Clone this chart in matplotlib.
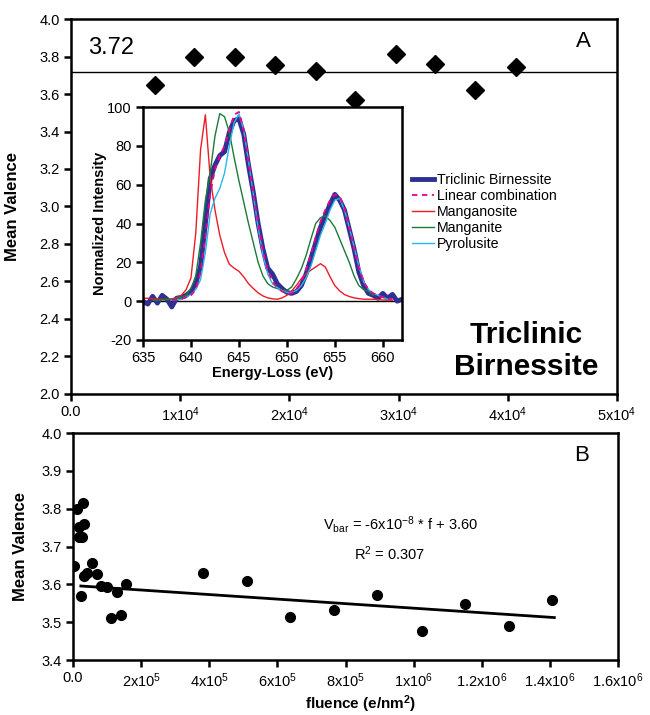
import numpy as np
import matplotlib
matplotlib.use("Agg")
import matplotlib.pyplot as plt

plt.rcParams["font.family"] = ["Liberation Sans", "DejaVu Sans"]
plt.rcParams["mathtext.fontset"] = "custom"
plt.rcParams["mathtext.rm"] = "Liberation Sans"
plt.rcParams["mathtext.it"] = "Liberation Sans:italic"
plt.rcParams["mathtext.bf"] = "Liberation Sans:bold"
plt.rcParams["axes.unicode_minus"] = False

# %% panel A: mean valence of each measurement
fluence_a = [7650, 11230, 15000, 18660, 22430, 26010, 29760, 33350, 37040, 40780]
valence_a = [3.65, 3.80, 3.80, 3.755, 3.724, 3.57, 3.813, 3.76, 3.621, 3.742]
mean_valence = 3.72

# %% inset: Mn L2,3 edge spectra
energy = [635.0, 635.5, 636.0, 636.5, 637.0, 637.5, 638.0, 638.5, 639.0, 639.5,
          640.0, 640.5, 641.0, 641.5, 642.0, 642.5, 643.0, 643.5, 644.0, 644.5,
          645.0, 645.5, 646.0, 646.5, 647.0, 647.5, 648.0, 648.5, 649.0, 649.5,
          650.0, 650.5, 651.0, 651.5, 652.0, 652.5, 653.0, 653.5, 654.0, 654.5,
          655.0, 655.5, 656.0, 656.5, 657.0, 657.5, 658.0, 658.5, 659.0, 659.5,
          660.0, 660.5, 661.0, 661.5, 662.0]
nan = np.nan
birnessite = [0.0, -1.5, 2.5, -1.0, 3.0, 1.0, -3.0, 1.5, 2.0, 3.0,
              5.0, 9.0, 18.0, 40.0, 63.0, 70.0, 75.0, 77.0, 87.0, 93.0,
              94.0, 86.0, 70.0, 56.0, 40.0, 27.0, 17.0, 14.0, 9.0, 6.5,
              4.5, 4.0, 5.0, 8.0, 14.0, 22.0, 30.0, 38.0, 44.0, 50.0,
              55.0, 52.0, 47.0, 37.0, 27.0, 15.0, 8.0, 4.0, 3.0, 1.5,
              4.0, 1.5, 3.5, 0.0, 1.0]
linear_comb = [nan, nan, nan, nan, nan, nan, 0.5, 0.8, 1.2, 2.0,
               3.0, 6.0, 15.0, 33.0, 55.0, 68.0, 75.0, 80.0, 88.0, 96.0,
               97.5, 88.0, 72.0, 56.0, 40.0, 26.0, 16.0, 10.0, 7.0, 5.0,
               4.0, 4.0, 6.0, 10.0, 16.0, 24.0, 33.0, 41.0, 47.0, 52.0,
               55.0, 54.0, 48.0, 38.0, 27.0, 17.0, 10.0, 6.0, 4.0, 3.0,
               2.0, 1.5, 1.0, nan, nan]
manganosite = [1.5, 1.5, 1.2, 1.0, 1.0, 1.0, 1.2, 1.8, 3.0, 6.0,
               12.0, 35.0, 78.0, 96.0, 64.0, 47.0, 34.0, 25.0, 19.0, 17.0,
               15.4, 12.5, 9.0, 6.5, 4.3, 2.7, 1.7, 1.2, 1.0, 1.7,
               3.0, 5.3, 8.2, 11.6, 14.0, 16.0, 17.6, 19.3, 17.6, 12.5,
               8.0, 5.3, 3.4, 2.4, 1.7, 1.3, 1.0, 1.0, 1.0, 0.8,
               0.6, 0.5, 0.5, nan, nan]
manganite = [nan, nan, 0.5, 0.5, 0.6, 0.8, 1.0, 1.5, 2.0, 3.0,
             6.5, 13.0, 30.0, 52.0, 66.0, 85.0, 96.6, 95.0, 87.0, 74.0,
             62.0, 51.0, 40.0, 30.0, 20.0, 13.0, 9.0, 7.3, 6.5, 5.6,
             5.6, 7.3, 11.6, 16.7, 23.5, 32.0, 40.0, 43.0, 44.0, 41.5,
             38.0, 32.0, 26.0, 20.0, 13.0, 8.0, 6.0, 5.0, 3.0, nan,
             nan, nan, nan, nan, nan]
pyrolusite = [nan, nan, nan, nan, nan, nan, 0.5, 0.8, 1.0, 2.0,
              3.5, 6.0, 11.0, 25.0, 45.0, 53.0, 58.0, 66.0, 80.0, 92.0,
              96.5, 88.0, 72.0, 55.0, 38.0, 24.0, 14.0, 9.0, 7.0, 5.5,
              4.5, 4.5, 5.5, 8.0, 12.0, 18.0, 26.0, 34.0, 40.0, 47.0,
              52.0, 53.0, 47.0, 38.0, 28.0, 18.0, 10.0, 6.0, 4.0, 3.0,
              2.0, 1.0, nan, nan, nan]

# %% panel B: mean valence vs fluence
fluence_b = [3.8e3, 1.3e4, 3.0e4, 1.8e4, 3.2e4, 1.85e4, 2.55e4, 2.25e4, 3.2e4, 4.0e4,
             5.5e4, 7.1e4, 8.2e4, 9.9e4, 1.116e5, 1.28e5, 1.40e5, 1.547e5,
             3.81e5, 5.12e5, 6.37e5, 7.66e5, 8.93e5, 1.025e6, 1.150e6, 1.281e6, 1.406e6]
valence_b = [3.649, 3.799, 3.814, 3.752, 3.759, 3.726, 3.726, 3.570, 3.622, 3.631,
             3.656, 3.627, 3.596, 3.593, 3.510, 3.580, 3.519, 3.600,
             3.631, 3.609, 3.513, 3.533, 3.571, 3.478, 3.549, 3.489, 3.558]
fit_slope = -6e-8
fit_intercept = 3.597
fit_range = [2.3e4, 1.413e6]

tick_a = [0, 1e4, 2e4, 3e4, 4e4, 5e4]
tick_a_labels = ["0.0", "1x10$^{4}$", "2x10$^{4}$", "3x10$^{4}$", "4x10$^{4}$", "5x10$^{4}$"]
tick_b = [0, 2e5, 4e5, 6e5, 8e5, 1e6, 1.2e6, 1.4e6, 1.6e6]
tick_b_labels = ["0.0", "2x10$^{5}$", "4x10$^{5}$", "6x10$^{5}$", "8x10$^{5}$",
                 "1x10$^{6}$", "1.2x10$^{6}$", "1.4x10$^{6}$", "1.6x10$^{6}$"]


def style(ax):
    for s in ax.spines.values():
        s.set_linewidth(1.8)
    ax.tick_params(direction="out", length=5, width=1.8, labelsize=10.5, pad=3,
                   top=False, right=False)


fig = plt.figure(figsize=(6.5, 7.15), dpi=100)

# %% top panel
ax1 = fig.add_axes([0.1092, 0.4490, 0.8400, 0.5244])
ax1.plot(fluence_a, valence_a, "D", color="black", ms=9)
ax1.axhline(mean_valence, color="black", lw=1)
ax1.set_xlim(0, 5e4)
ax1.set_ylim(2.0, 4.0)
ax1.set_yticks(np.arange(2.0, 4.01, 0.2))
ax1.yaxis.set_major_formatter(matplotlib.ticker.FormatStrFormatter("%.1f"))
ax1.set_xticks(tick_a)
ax1.set_xticklabels(tick_a_labels)
ax1.set_ylabel("Mean Valence", fontsize=12, fontweight="bold", labelpad=14)
style(ax1)
ax1.text(0.031, 0.923, "%.2f" % mean_valence, transform=ax1.transAxes,
         fontsize=17, ha="left", va="center")
ax1.text(0.938, 0.939, "A", transform=ax1.transAxes, fontsize=16,
         ha="center", va="center")
ax1.text(0.833, 0.115, "Triclinic\nBirnessite", transform=ax1.transAxes,
         fontsize=21.5, fontweight="bold", ha="center", va="center", linespacing=1.2)

# %% inset
ax2 = fig.add_axes([0.2200, 0.5245, 0.3985, 0.3258])
ax2.axhline(0, color="black", lw=1)
ax2.plot(energy, birnessite, color="#2e3192", lw=3.5, label="Triclinic Birnessite")
ax2.plot(energy, manganosite, color="#ed1c24", lw=1, label="Manganosite")
ax2.plot(energy, manganite, color="#1b7a3a", lw=1, label="Manganite")
ax2.plot(energy, pyrolusite, color="#29b6ea", lw=1, label="Pyrolusite")
ax2.plot(energy, linear_comb, color="#ec008c", lw=1.3, ls=(0, (3, 2.5)),
         label="Linear combination")
ax2.set_xlim(635, 662)
ax2.set_ylim(-20, 100)
ax2.set_xticks([635, 640, 645, 650, 655, 660])
ax2.set_yticks([-20, 0, 20, 40, 60, 80, 100])
ax2.set_xlabel("Energy-Loss (eV)", fontsize=10.5, fontweight="bold", labelpad=1)
ax2.set_ylabel("Normalized Intensity", fontsize=10.5, fontweight="bold", labelpad=0)
style(ax2)
h, l = ax2.get_legend_handles_labels()
order = [0, 4, 1, 2, 3]
fig.legend([h[i] for i in order], [l[i] for i in order],
           loc="upper left", bbox_to_anchor=(412 / 650, 1 - 173 / 715),
           frameon=False, fontsize=10.2, handlelength=1.55, handletextpad=0.2,
           labelspacing=0.14, borderpad=0, borderaxespad=0)

# %% bottom panel
ax3 = fig.add_axes([0.1123, 0.0769, 0.8385, 0.3175])
ax3.plot(fluence_b, valence_b, "o", color="black", ms=7)
ax3.plot(fit_range, [fit_intercept + fit_slope * f for f in fit_range],
         color="black", lw=2)
ax3.set_xlim(0, 1.6e6)
ax3.set_ylim(3.4, 4.0)
ax3.set_yticks(np.arange(3.4, 4.01, 0.1))
ax3.yaxis.set_major_formatter(matplotlib.ticker.FormatStrFormatter("%.1f"))
ax3.set_xticks(tick_b)
ax3.set_xticklabels(tick_b_labels)
ax3.set_ylabel("Mean Valence", fontsize=12, fontweight="bold", labelpad=10)
ax3.set_xlabel("fluence (e/nm$^{\\mathbf{2}}$)", fontsize=11, fontweight="bold", labelpad=0)
ax3.xaxis.set_label_coords(0.527, -0.145)
style(ax3)
ax3.text(0.934, 0.903, "B", transform=ax3.transAxes, fontsize=16,
         ha="center", va="center")
ax3.text(0.459, 0.595, "V$_{\\mathregular{bar}}$ = -6x10$^{\\mathregular{-8}}$ * f + 3.60",
         transform=ax3.transAxes, fontsize=10.5, ha="left", va="center")
ax3.text(0.516, 0.467, "R$^{\\mathregular{2}}$ = 0.307", transform=ax3.transAxes,
         fontsize=10.5, ha="left", va="center")

fig.savefig("out.png", dpi=100)
